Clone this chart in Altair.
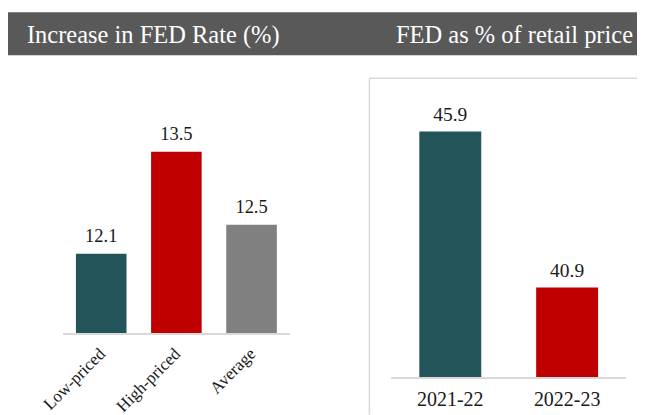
import altair as alt
import pandas as pd

# ---- data ----
left_categories = ["Low-priced", "High-priced", "Average"]
left_values = [12.1, 13.5, 12.5]
left_colors = ["#22545A", "#C00000", "#808080"]

right_categories = ["2021-22", "2022-23"]
right_values = [45.9, 40.9]
right_colors = ["#22545A", "#C00000"]

titles = ["Increase in FED Rate (%)", "FED as % of retail price"]

FONT = "Liberation Serif"
W, H = 630, 403

left_df = pd.DataFrame({"cat": left_categories, "val": left_values, "col": left_colors})
right_df = pd.DataFrame({"cat": right_categories, "val": right_values, "col": right_colors})

# ---- header ----
one = pd.DataFrame({"a": [0]})
header_bg = alt.Chart(one).mark_rect(color="#595959").encode(
    x=alt.value(0), x2=alt.value(W), y=alt.value(0), y2=alt.value(43)
)
title_left = alt.Chart(pd.DataFrame({"t": [titles[0]]})).mark_text(
    font=FONT, fontSize=24.5, color="white", align="left", baseline="alphabetic"
).encode(x=alt.value(19), y=alt.value(31), text="t:N")
title_right = alt.Chart(pd.DataFrame({"t": [titles[1]]})).mark_text(
    font=FONT, fontSize=24.5, color="white", align="right", baseline="alphabetic"
).encode(x=alt.value(626), y=alt.value(31), text="t:N")

# ---- left panel ----
lx = alt.X("cat:N", sort=left_categories, axis=None,
           scale=alt.Scale(range=[55.3, 282], paddingInner=0.327, paddingOuter=0.169))
ly = alt.Y("val:Q", axis=None, scale=alt.Scale(domain=[11, 14], range=[322.3, 103.1], zero=False, nice=False))

lbase = alt.Chart(left_df)
l_bars = lbase.mark_bar().encode(x=lx, y=ly, y2=alt.datum(11),
                                 color=alt.Color("col:N", scale=None))
l_vals = lbase.mark_text(font=FONT, fontSize=18.5, color="#1a1a1a", baseline="alphabetic", dy=-11.5).encode(
    x=lx, y=ly, text=alt.Text("val:Q", format=".1f"))
l_ticks = lbase.mark_text(font=FONT, fontSize=17, color="#1a1a1a", angle=315, align="right",
                          baseline="middle", dx=2).encode(
    x=lx, y=alt.value(341), text="cat:N")
l_rule = lbase.mark_rule(color="#D9D9D9", strokeWidth=2).encode(
    x=alt.value(55.3), x2=alt.value(282), y=alt.value(322.3))
left = alt.layer(l_bars, l_rule, l_vals, l_ticks)

# ---- right panel (frame: top and left edges; the rest lies outside the picture) ----
r_top = alt.Chart(one).mark_rule(color="#D9D9D9", strokeWidth=1.5).encode(
    x=alt.value(362), x2=alt.value(W), y=alt.value(66))
r_left = alt.Chart(one).mark_rule(color="#D9D9D9", strokeWidth=1.5).encode(
    x=alt.value(362), y=alt.value(66), y2=alt.value(H))

rx = alt.X("cat:N", sort=right_categories, axis=None,
           scale=alt.Scale(range=[384, 619], paddingInner=0.47, paddingOuter=0.239))
ry = alt.Y("val:Q", axis=None, scale=alt.Scale(domain=[38, 47], range=[366.3, 85], zero=False, nice=False))

rbase = alt.Chart(right_df)
r_bars = rbase.mark_bar().encode(x=rx, y=ry, y2=alt.datum(38),
                                 color=alt.Color("col:N", scale=None))
r_vals = rbase.mark_text(font=FONT, fontSize=19.5, color="#1a1a1a", baseline="alphabetic", dy=-11).encode(
    x=rx, y=ry, text=alt.Text("val:Q", format=".1f"))
r_ticks = rbase.mark_text(font=FONT, fontSize=20, color="#1a1a1a", baseline="alphabetic").encode(
    x=rx, y=alt.value(394), text="cat:N")
r_rule = rbase.mark_rule(color="#D9D9D9", strokeWidth=2).encode(
    x=alt.value(384), x2=alt.value(619), y=alt.value(366.3))
right = alt.layer(r_bars, r_rule, r_vals, r_ticks)

chart = alt.layer(header_bg, title_left, title_right, r_top, r_left, left, right).resolve_scale(
    x="independent", y="independent", color="independent"
).properties(
    width=W, height=H, padding={"left": 0, "top": 4, "right": 0, "bottom": 0}
).configure_view(stroke=None)

chart.save("out.html", embed_options={"renderer": "svg", "actions": False})
